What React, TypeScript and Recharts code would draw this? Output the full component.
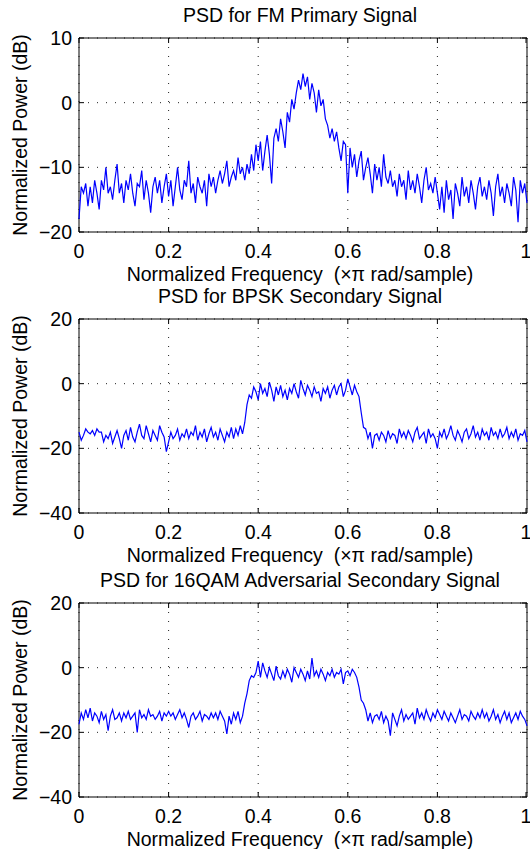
import { LineChart, Line, XAxis, YAxis, CartesianGrid, ReferenceArea } from 'recharts'

// frequency ticks shared by all three panels
const freqTicks = [0, 0.2, 0.4, 0.6, 0.8, 1]

const titles = [
  'PSD for FM Primary Signal',
  'PSD for BPSK Secondary Signal',
  'PSD for 16QAM Adversarial Secondary Signal',
]
const xLabel = 'Normalized Frequency  (\u00d7\u03c0 rad/sample)'
const yLabel = 'Normalized Power (dB)'

const fmTicks = [-20, -10, 0, 10]
const wideTicks = [-40, -20, 0, 20]

// PSD values in dB, 201 bins from 0 to 1 (step 0.005)
const fmPsd = [
  -18, -13, -14, -12.5, -16, -13, -15.5, -12, -14, -16.5,
  -12, -13.5, -10, -14, -13, -15, -12, -9.5, -14, -12.5,
  -15.5, -12, -13.5, -11, -14, -16, -12.5, -13, -10.5, -15, -12, -14, -17, -13, -11.5, -14, -12, -15.5, -13, -11,
  -14.5, -12, -16, -13, -10, -13.5, -15, -12, -13, -9, -14, -12.5, -15.5, -11.5, -13, -14, -12, -16, -11, -13,
  -11.5, -14, -12, -10.5, -12.5, -11, -9, -13, -11.5, -10.5, -12, -8.5, -11, -10, -12, -9.5, -11, -8, -10.5, -6.5,
  -9, -6, -10.5, -7.5, -5, -8, -12.5, -5.5, -4, -6, -2.5, -4.5, -7, -1.5, -3, 0.5, -1, 1.5, 3.5, 2,
  4.5,
  2.5, 4, 0.5, 3, 1.5, -1.5, 2, -0.5, 0.5, -2.5,
  -3.5, -5.5, -4, -6, -4.5, -7, -9, -6, -6.5, -14,
  -7, -10, -8, -11.5, -9, -7.5, -12, -10, -8.5, -11, -14, -9.5, -12, -10, -13, -8, -11.5, -12.5, -10.5, -13,
  -12, -14.5, -11, -13, -12, -15, -10.5, -13.5, -12, -14, -11, -13, -15.5, -12, -10, -13.5, -12.5, -14, -11.5, -14,
  -16.5, -13, -17, -12, -15, -13.5, -18, -12.5, -14, -16, -11.5, -14.5, -13, -15.5, -12, -14, -16.5, -13, -11.5, -14.5,
  -13, -15, -12, -14, -17.5, -13, -11, -14.5, -13, -15.5, -12.5, -14, -16, -11.5, -13.5, -18.5, -12, -14, -12.5, -15.5,
]

const bpskPsd = [
  -15, -17.5, -16, -14, -15, -15.5, -14.5, -16, -14, -15, -15, -18, -16, -17, -15, -18.5, -16.5, -14.5, -17, -20,
  -16, -14.5, -17.5, -13.5, -16.5, -18, -15, -12.5, -16, -17, -13, -15.5, -18, -14.5, -16, -17.5, -13, -15, -16.5, -21,
  -18, -15, -17, -16, -14, -17.5, -15.5, -16.5, -14, -17, -15, -16, -13, -17.5, -15, -16.5, -14, -18, -15.5, -13.5,
  -16.5, -15, -17.5, -14, -16, -18, -15, -16.5, -13.5, -17, -14, -16, -13, -15.5, -12, -6.5, -3.5, -4.5, -1, -2.5,
  -5, 0, -3, -1.5, -4, 0.5, -2, -5.5, -1, -3.5, -0.5, -4, -2, -5, -1.5, -3, 0, -2.5, -4.5, 1,
  -1.5, -3.5, -0.5, -2, -4, -1, -3, -2.5, -5.5, -1.5, -3, -1, -4.5, -2, -0.5, -3.5, -1, 0, -4, -2, 1.5,
  -1, -3.5, -0.5, -2.5, -4, -9, -13.5, -14, -17, -15, -20, -16, -15.5, -17.5, -15, -16, -18, -14.5, -17, -15.5,
  -16, -18.5, -14, -16.5, -15, -17, -14.5, -16, -18, -15, -13.5, -17, -16, -15, -18.5, -14, -16.5, -15.5, -17, -20,
  -15, -16.5, -14, -17, -15.5, -13, -16, -17.5, -14.5, -16, -18, -15, -14, -17, -15.5, -13, -16.5, -15, -17.5, -14,
  -16, -15, -17.5, -13.5, -16, -15, -17, -14, -16.5, -15.5, -13.5, -17, -15, -16.5, -14, -17.5, -15.5, -16, -14.5, -18,
]

const qamPsd = [
  -17.5, -14, -16, -13, -15.5, -12.5, -16.5, -14, -15, -17, -13.5, -16, -14.5, -19.5, -15, -13, -16, -15.5, -14, -16.5,
  -14, -15.5, -13.5, -16, -15, -14, -20, -13, -15.5, -14.5, -16, -13, -15, -14.5, -16, -15, -13.5, -16.5, -14, -15,
  -13.5, -15, -14, -16, -14.5, -13, -15.5, -14, -16, -18.5, -15, -14, -16, -15, -13.5, -16.5, -14.5, -15, -16, -14,
  -15.5, -14, -16, -13.5, -15, -16.5, -20.5, -15, -17.5, -14, -16, -13.5, -17, -15, -11, -8, -4, -2.5, -3, -1.5,
  2, -3, 1.5, -1, -3, 0, -2, -4, 0.5, -2.5, -3.5, -1, -3, -0.5, -2, -4.5, 0, -1.5, -3, -0.5,
  -2, -4, -1, -3.5, 3, -2.5, -1, -3, -0.5, -2, -4, -1.5, -2.5, -0.5, -3, -1.5, -2, -0.5, -5, -1.5, -1,
  -2.5, -0.5, -1.5, -3, -6, -10, -11, -13, -16.5, -14, -17, -15, -14.5, -16, -13.5, -17, -15, -16.5, -21, -14,
  -16, -18, -15, -13, -16.5, -14.5, -16, -15, -14, -17.5, -12.5, -15.5, -14, -16, -13, -15, -16.5, -14, -15.5, -13,
  -14.5, -16, -13.5, -15, -16.5, -14, -15.5, -17, -15, -13, -16, -14.5, -15, -16.5, -13.5, -15, -16, -14, -15.5, -13,
  -15.5, -14, -16.5, -15, -13, -16, -14.5, -17, -15, -13.5, -16, -14, -17, -15.5, -14, -16, -13.5, -15, -16, -18,
]

const W = 530
const H = 284
const PLOT_TOP = 38
const PLOT_RIGHT = 527
const FONT = '"Liberation Sans", Arial, Helvetica, sans-serif'
const FS = 19.5

const fmtNum = (v: number) => (v < 0 ? '\u2212' + Math.abs(v) : String(v))

function XTick({ x, y, payload }: any) {
  return (
    <g>
      <line x1={x} x2={x} y1={y} y2={y - 5} stroke="#000" />
      <line x1={x} x2={x} y1={PLOT_TOP} y2={PLOT_TOP + 5} stroke="#000" />
      <text x={x} y={y + 19} textAnchor="middle" dominantBaseline="central" fontFamily={FONT} fontSize={FS} fill="#000">
        {fmtNum(payload.value)}
      </text>
    </g>
  )
}

function YTick({ x, y, payload }: any) {
  return (
    <g>
      <line x1={x} x2={x + 5} y1={y} y2={y} stroke="#000" />
      <line x1={PLOT_RIGHT - 5} x2={PLOT_RIGHT} y1={y} y2={y} stroke="#000" />
      <text x={x - 7} y={y} textAnchor="end" dominantBaseline="central" fontFamily={FONT} fontSize={FS} fill="#000">
        {fmtNum(payload.value)}
      </text>
    </g>
  )
}

function Panel({ top, title, values, yTicks }: { top: number; title: string; values: number[]; yTicks: number[] }) {
  const data = values.map((v, i) => ({ f: i / (values.length - 1), v }))
  const lo = yTicks[0]
  const hi = yTicks[yTicks.length - 1]
  const textStyle = {
    position: 'absolute' as const,
    fontFamily: FONT,
    fontSize: FS,
    color: '#000',
    whiteSpace: 'pre' as const,
    lineHeight: '20px',
  }
  return (
    <div style={{ position: 'absolute', left: 0, top, width: W, height: H }}>
      <LineChart width={W} height={H} data={data} margin={{ top: PLOT_TOP, right: W - PLOT_RIGHT, bottom: 22, left: 39 }}>
        <CartesianGrid stroke="#222" strokeDasharray="1 8" />
        <XAxis
          dataKey="f"
          type="number"
          domain={[0, 1]}
          ticks={freqTicks}
          height={30}
          tickSize={0}
          tickMargin={0}
          axisLine={false}
          tick={<XTick />}
        />
        <YAxis
          type="number"
          domain={[lo, hi]}
          ticks={yTicks}
          width={40}
          tickSize={0}
          tickMargin={0}
          axisLine={false}
          tick={<YTick />}
        />
        <Line dataKey="v" stroke="#0000ff" strokeWidth={1.2} dot={false} isAnimationActive={false} />
        <ReferenceArea x1={0} x2={1} y1={lo} y2={hi} fill="none" fillOpacity={0} stroke="#000" strokeWidth={1} />
      </LineChart>
      <div style={{ ...textStyle, left: 0, width: 600, top: 5, textAlign: 'center' }}>{title}</div>
      <div style={{ ...textStyle, left: 0, width: 600, top: 264, textAlign: 'center' }}>{xLabel}</div>
      <div style={{ ...textStyle, left: 20, top: 135, transform: 'translate(-50%, -50%) rotate(-90deg)' }}>{yLabel}</div>
    </div>
  )
}

export default function App() {
  return (
    <div style={{ position: 'absolute', left: 0, top: 0, width: W, height: 849, background: '#fff', overflow: 'hidden' }}>
      <Panel top={0} title={titles[0]} values={fmPsd} yTicks={fmTicks} />
      <Panel top={281} title={titles[1]} values={bpskPsd} yTicks={wideTicks} />
      <Panel top={565} title={titles[2]} values={qamPsd} yTicks={wideTicks} />
    </div>
  )
}
